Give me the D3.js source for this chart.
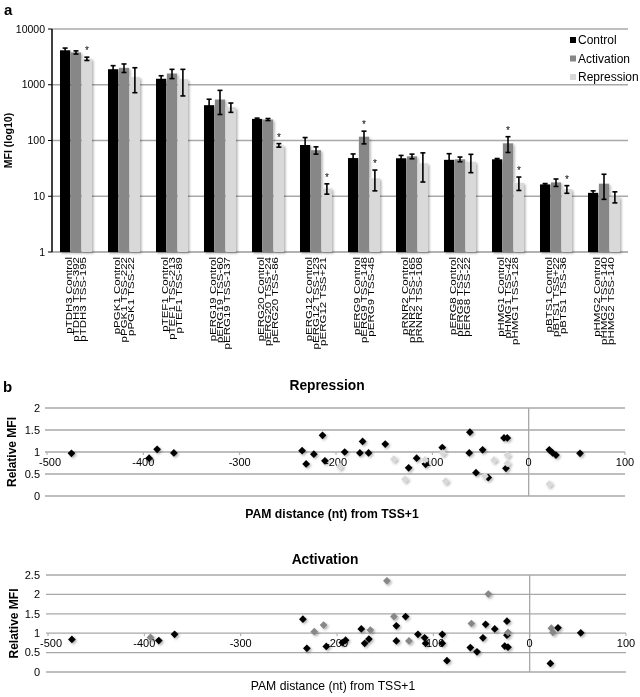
<!DOCTYPE html>
<html><head><meta charset="utf-8">
<script src="https://cdn.jsdelivr.net/npm/d3@7"></script>
<style>
body{margin:0;background:#fff;}
svg{display:block;font-family:"Liberation Sans",Arial,sans-serif;will-change:transform;}
</style></head>
<body><svg id="c" width="640" height="697"></svg>
<script>
// ---------- Panel a data ----------
const categories = ["pTDH3","pPGK1","pTEF1","pERG19","pERG20","pERG12","pERG9","pRNR2","pERG8","pHMG1","pBTS1","pHMG2"];
const activationLabels = ["TSS-392","TSS-222","TSS-213","TSS-60","TSS+24","TSS-123","TSS-148","TSS-165","TSS-22","TSS-42","TSS+22","TSS-140"];
const repressionLabels = ["TSS-195","TSS-22","TSS-89","TSS-137","TSS-86","TSS+21","TSS-45","TSS-108","TSS-22","TSS-128","TSS-36","TSS-140"];
const seriesNames = ["Control","Activation","Repression"];
const controlValues    = [4150,1900,1280,430,244,83,48.4,48,45,46,16.3,11.5];
const controlErrors    = [400,300,170,120,8,30,9,6,13,1.5,0.6,1];
const activationValues = [3800,2010,1590,543,238,67,117,52,46,89,17.7,16.8];
const activationErrors = [250,350,300,250,10,10,30,5,4.5,28,2.7,8];
const repressionValues = [2925,1370,1260,395,82,13.8,21,39,41.5,17.4,13.4,9.8];
const repressionErrors = [200,650,630,75,6,2.9,8.5,21,15,4.7,2.1,2.2];
const significant = [["pTDH3","Repression"],["pERG20","Repression"],["pERG12","Repression"],["pERG9","Activation"],["pERG9","Repression"],["pHMG1","Activation"],["pHMG1","Repression"],["pBTS1","Repression"]];
const mfiTicks = [1,10,100,1000,10000];

// ---------- Panel b data ([PAM distance, relative MFI]) ----------
const repressionOther = [[-474.6,0.97],[-394,0.86],[-385.7,1.06],[-368.3,0.98],[-235.2,1.03],[-231,0.73],[-223,0.95],[-214,1.38],[-211.5,0.80],[-191,1.0],[-175.2,0.98],[-172.4,1.24],[-166.2,0.98],[-148.9,1.18],[-124.6,0.64],[-116.3,0.86],[-107,0.72],[-89.7,1.10],[-61,1.45],[-61.7,0.98],[-54.7,0.53],[-47.8,1.05],[-42,0.42],[-25.6,1.32],[-22.2,1.32],[-23.6,0.63],[21.4,1.05],[24.9,0.98],[28.3,0.93],[53.3,0.97]];
const repressionSignificant = [[-196,0.67],[-139.9,0.84],[-128.4,0.38],[-107.7,0.82],[-89.3,0.98],[-86.2,0.34],[-45.4,0.45],[-36,0.82],[-22.2,0.93],[-22.2,0.74],[21.4,0.27]];
const activationOther = [[-475.2,0.84],[-385,0.81],[-368.6,0.97],[-235.4,1.36],[-231.3,0.61],[-211.1,0.66],[-194.5,0.76],[-191.1,0.82],[-174.8,1.11],[-171.3,0.74],[-166.9,0.85],[-138.4,1.19],[-138.4,0.80],[-128.8,1.43],[-116,0.97],[-109,0.88],[-108,0.74],[-90.7,0.97],[-90.7,0.74],[-85.9,0.29],[-61.6,0.63],[-54.7,0.52],[-48.5,0.88],[-45.7,1.23],[-36.3,1.11],[-25.9,0.67],[-22.5,0.64],[-23.6,1.31],[-23.6,0.95],[29.4,1.14],[21.5,0.22],[53,1.01]];
const activationSignificant = [[-393.6,0.89],[-223.6,1.04],[-213.9,1.21],[-165.4,1.08],[-148.2,2.35],[-140.9,1.43],[-125.3,0.80],[-60.5,1.25],[-42.9,2.01],[-22.5,1.02],[22.5,1.13],[24.2,1.02]];
const distanceTicks = [-500,-400,-300,-200,-100,0,100];
const repressionTicks = [0,0.5,1,1.5,2];
const activationTicks = [0,0.5,1,1.5,2,2.5];

const colors = {Control:"#000000",Activation:"#878787",Repression:"#d9d9d9"};
const grid = "#a8a8a8";

const svg = d3.select("#c");
const defs = svg.append("defs");
const f = defs.append("filter").attr("id","sh").attr("x","-30%").attr("y","-30%").attr("width","160%").attr("height","160%");
f.append("feDropShadow").attr("dx",1.5).attr("dy",1.5).attr("stdDeviation",1).attr("flood-color","#000").attr("flood-opacity",0.3);

// ================= Panel a =================
svg.append("text").attr("x",4).attr("y",15).attr("font-size",15).attr("font-weight","bold").text("a");
const left = 52, right = 628;
const y = d3.scaleLog().domain([1,10000]).range([252,29]);
const x0 = d3.scaleBand().domain(categories).range([left,right]).paddingInner(1/3).paddingOuter(1/6);
const x1 = d3.scaleBand().domain(seriesNames).range([0,x0.bandwidth()]).paddingInner(0.06);

svg.append("g").selectAll("line").data(mfiTicks.filter(t=>t>1)).join("line")
  .attr("x1",left).attr("x2",right).attr("y1",d=>y(d)).attr("y2",d=>y(d))
  .attr("stroke",grid).attr("stroke-width",1.3);
svg.append("line").attr("x1",left).attr("x2",right).attr("y1",y(1)).attr("y2",y(1)).attr("stroke","#999").attr("stroke-width",1.3);

const valueMap = {Control:controlValues,Activation:activationValues,Repression:repressionValues};
const errMap = {Control:controlErrors,Activation:activationErrors,Repression:repressionErrors};
const barData = [];
categories.forEach((c,i)=>seriesNames.forEach(s=>barData.push({c,s,v:valueMap[s][i],e:errMap[s][i]})));

svg.append("g").attr("filter","url(#sh)").selectAll("rect").data(barData).join("rect")
  .attr("x",d=>x0(d.c)+x1(d.s)).attr("width",x1.bandwidth())
  .attr("y",d=>y(d.v)).attr("height",d=>y(1)-y(d.v)).attr("fill",d=>colors[d.s]);

const eb = svg.append("g").attr("stroke","#000").attr("stroke-width",1.6);
barData.forEach(d=>{
  const cx = x0(d.c)+x1(d.s)+x1.bandwidth()/2;
  const yt = y(d.v+d.e), yb = y(Math.max(d.v-d.e,1));
  eb.append("line").attr("x1",cx).attr("x2",cx).attr("y1",yt).attr("y2",yb);
  eb.append("line").attr("x1",cx-2.5).attr("x2",cx+2.5).attr("y1",yt).attr("y2",yt);
  eb.append("line").attr("x1",cx-2.5).attr("x2",cx+2.5).attr("y1",yb).attr("y2",yb);
});
svg.append("g").selectAll("text").data(significant).join("text")
  .attr("x",d=>x0(d[0])+x1(d[1])+x1.bandwidth()/2)
  .attr("y",d=>{const i=categories.indexOf(d[0]);return y(valueMap[d[1]][i]+errMap[d[1]][i])-3;})
  .attr("text-anchor","middle").attr("font-size",10).attr("fill","#000").text("*");

svg.append("line").attr("x1",left).attr("x2",left).attr("y1",y(10000)).attr("y2",y(1)).attr("stroke","#000").attr("stroke-width",1.5);
const yt = svg.append("g");
yt.selectAll("line").data(mfiTicks).join("line").attr("x1",left-4).attr("x2",left).attr("y1",d=>y(d)).attr("y2",d=>y(d)).attr("stroke","#000");
yt.selectAll("text").data(mfiTicks).join("text").attr("x",45).attr("y",d=>y(d)).attr("dy","0.35em")
  .attr("text-anchor","end").attr("font-size",10.5).text(d=>d);
svg.append("text").attr("transform","translate(12,"+((y(10000)+y(1))/2)+") rotate(-90)")
  .attr("text-anchor","middle").attr("font-size",10.5).attr("font-weight","bold").text("MFI (log10)");

// category labels (three stacked lines per group, rotated)
const lab = svg.append("g").attr("font-size",11.5);
categories.forEach((c,i)=>{
  const cx = x0(c)+x0.bandwidth()/2;
  const lines = [c+" Control", c+" "+activationLabels[i], c+" "+repressionLabels[i]];
  lines.forEach((t,k)=>{
    lab.append("text").attr("transform","translate("+(cx-4.5+7.4*k)+",257) rotate(-90) scale(1,0.8)")
      .attr("text-anchor","end").text(t);
  });
});

const lg = svg.append("g");
seriesNames.forEach((s,k)=>{
  const yy = 40+18.5*k;
  lg.append("rect").attr("x",570).attr("y",yy-3).attr("width",6).attr("height",6).attr("fill",colors[s]);
  lg.append("text").attr("x",578).attr("y",yy).attr("dy","0.35em").attr("font-size",12).text(s);
});

// ================= Panel b =================
svg.append("text").attr("x",3).attr("y",392).attr("font-size",15).attr("font-weight","bold").text("b");

function scatter(opt){
  const xs = d3.scaleLinear().domain([-500,100]).range(opt.xr);
  const ys = d3.scaleLinear().domain([0,opt.ymax]).range(opt.yr);
  const g = svg.append("g");
  g.append("text").attr("x",opt.titleX).attr("y",opt.titleY).attr("text-anchor","middle").attr("font-size",13.8).attr("font-weight","bold").text(opt.title);
  g.selectAll(".gl").data(opt.yticks).join("line").attr("x1",opt.xr[0]-2).attr("x2",opt.xr[1]).attr("y1",d=>ys(d)).attr("y2",d=>ys(d)).attr("stroke",grid).attr("stroke-width",1.3);
  g.selectAll(".yl").data(opt.yticks).join("text").attr("x",40).attr("y",d=>ys(d)).attr("dy","0.35em").attr("text-anchor","end").attr("font-size",11).text(d=>d);
  g.append("line").attr("x1",xs(0)).attr("x2",xs(0)).attr("y1",ys(opt.ymax)).attr("y2",ys(0)).attr("stroke",grid).attr("stroke-width",1.3);
  g.selectAll(".xt").data(distanceTicks).join("line").attr("x1",d=>xs(d)).attr("x2",d=>xs(d)).attr("y1",ys(1)).attr("y2",ys(1)+3).attr("stroke",grid);
  g.selectAll(".xl").data(distanceTicks).join("text").attr("x",d=>xs(d)+(d===-500?3:0)).attr("y",ys(1)+14).attr("text-anchor","middle").attr("font-size",11).attr("fill","#000").text(d=>d);
  g.append("text").attr("transform","translate("+opt.ylabX+","+((ys(0)+ys(opt.ymax))/2)+") rotate(-90)").attr("text-anchor","middle").attr("font-size",12).attr("font-weight","bold").text("Relative MFI");
  g.append("text").attr("x",(opt.xr[0]+opt.xr[1])/2-4).attr("y",opt.xtY).attr("text-anchor","middle").attr("font-size",12.2).attr("font-weight",opt.xtBold?"bold":"normal").text("PAM distance (nt) from TSS+1");
  const sym = d3.symbol().type(d3.symbolSquare).size(30);
  const pts = g.append("g").attr("filter","url(#sh)");
  pts.selectAll(".o").data(opt.other).join("path").attr("d",sym).attr("transform",d=>"translate("+xs(d[0])+","+ys(d[1])+") rotate(45)").attr("fill","#000");
  pts.selectAll(".s").data(opt.sig).join("path").attr("d",sym).attr("transform",d=>"translate("+xs(d[0])+","+ys(d[1])+") rotate(45)").attr("fill",opt.sigColor);
}
scatter({title:"Repression",titleX:327,titleY:390,xr:[47,625],yr:[496,408],ymax:2,yticks:repressionTicks,ylabX:16,xtY:518,xtBold:true,other:repressionOther,sig:repressionSignificant,sigColor:colors.Repression});
scatter({title:"Activation",titleX:325,titleY:564,xr:[48,626],yr:[672,575],ymax:2.5,yticks:activationTicks,ylabX:18,xtY:690,xtBold:false,other:activationOther,sig:activationSignificant,sigColor:colors.Activation});
</script></body></html>
